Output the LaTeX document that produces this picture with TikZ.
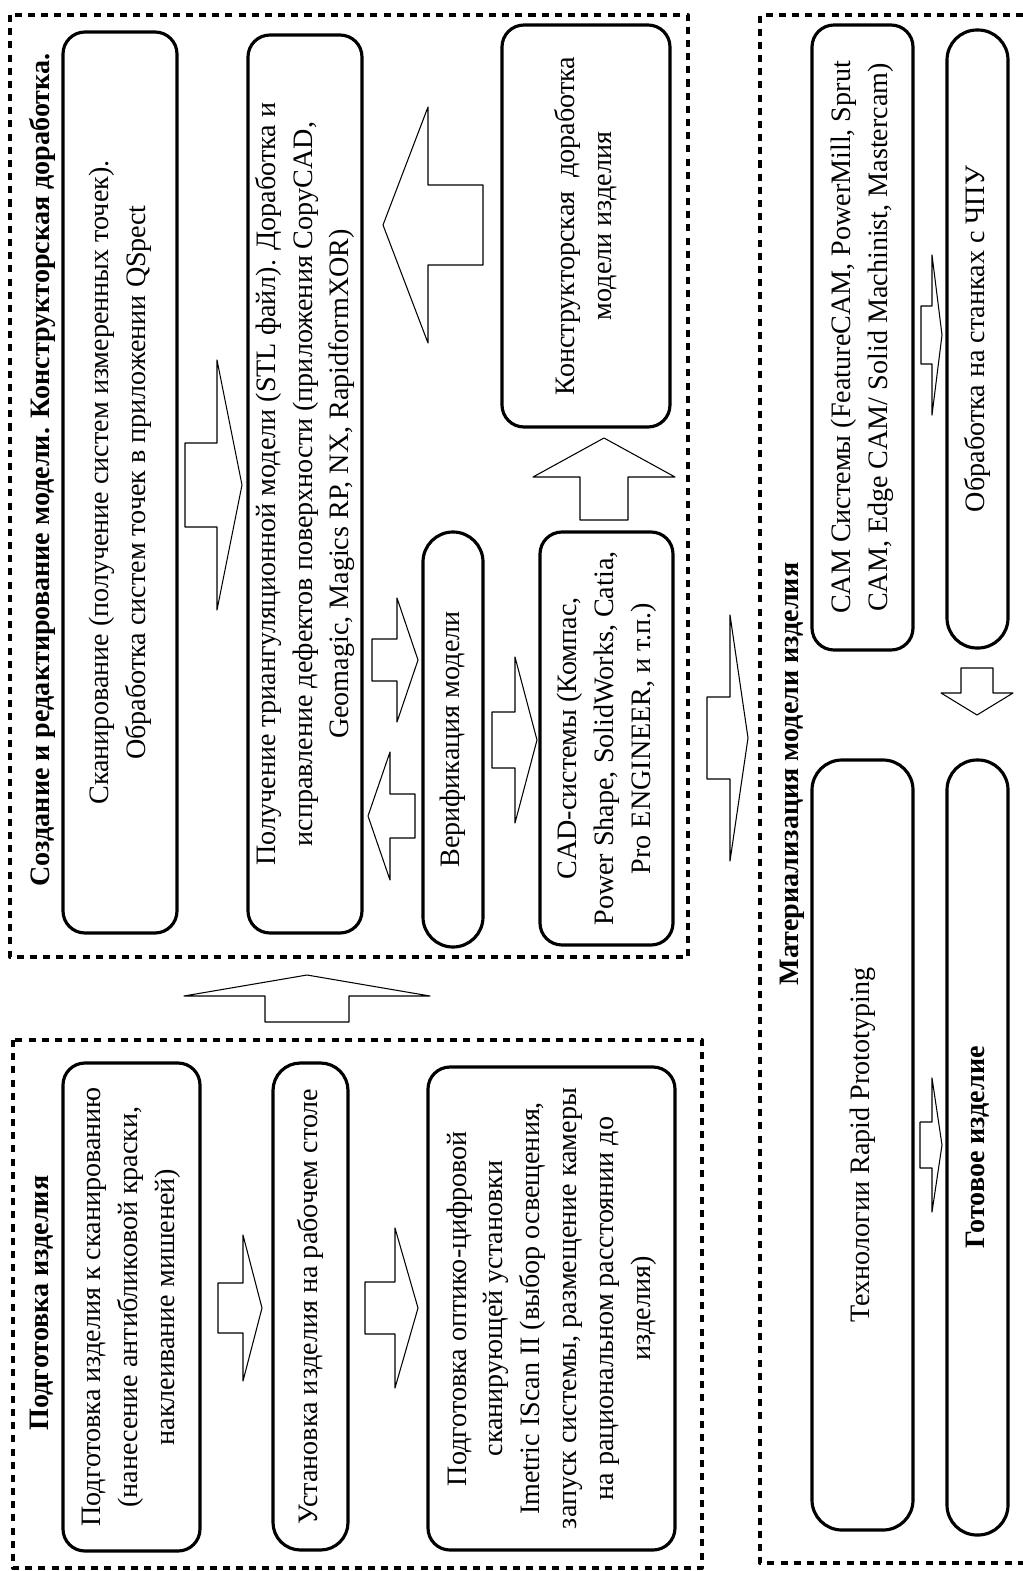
\documentclass[tikz,border=0pt]{standalone}
\usepackage{fontspec}
\setmainfont{Liberation Serif}
\begin{document}
\begin{tikzpicture}[
  x=0.02cm, y=-0.02cm, % one reference pixel, y runs downwards
  line join=round,
  font=\fontsize{16}{21}\selectfont,
  box/.style={draw, line width=1.8pt, rounded corners=0.44cm, rotate=90,
    align=center, inner sep=0pt},
  pill/.style={box, rounded corners=0.6cm},
  boxsize/.style 2 args={minimum width=#1*\px, minimum height=#2*\px},
  title/.style={rotate=90, font=\fontsize{16}{21}\selectfont\bfseries},
  frame/.style={line width=2.2pt, dash pattern=on 4pt off 3.5pt},
  blk/.style={draw, line width=0.6pt, fill=white}
]
  \def\px{0.02cm} % pixel size

  % ---- page ----
  \useasboundingbox (0,0) rectangle (1023,1571);

  % ---- dashed frames ----
  \draw[frame] (13,1040) rectangle (702,1568);
  \draw[frame] (10,15) rectangle (688,957);
  \draw[frame] (1023,15) -- (760,15) -- (760,1563) -- (1023,1563); % runs off the page

  % ---- frame titles ----
  \node[title] (tprep) at (42,1303) {Подготовка изделия};
  \node[title] (tmodel) at (42,470) {Создание и редактирование модели. Конструкторская доработка.};
  \node[title] (tmat) at (792,774) {Материализация модели изделия};

  % ---- preparation ----
  \node[box, boxsize={488}{137}] (prep) at (131.5,1307)
    {Подготовка изделия к сканированию\\(нанесение антибликовой краски,\\наклеивание мишеней)};
  \node[box, boxsize={487}{75}, rounded corners=0.55cm] (table) at (310.5,1306.5)
    {Установка изделия на рабочем столе};
  \node[box, boxsize={483}{247}] (setup) at (551.5,1308.5)
    {Подготовка оптико-цифровой\\сканирующей установки\\Imetric IScan II (выбор освещения,\\запуск системы, размещение камеры\\на рациональном расстоянии до\\изделия)};

  % ---- model ----
  \node[box, boxsize={901}{114}] (scan) at (120,482.5)
    {Сканирование (получение систем измеренных точек).\\Обработка систем точек в приложении QSpect};
  \node[box, boxsize={898}{114}] (stl) at (305,484)
    {Получение триангуляционной модели (STL файл). Доработка и\\исправление дефектов поверхности (приложения CopyCAD,\\Geomagic, Magics RP, NX, RapidformXOR)};
  \node[box, boxsize={402}{168}] (design) at (586,226)
    {Конструкторская\ \ доработка\\модели изделия};
  \node[pill, boxsize={415}{60}] (verify) at (453,739.5) {Верификация модели};
  \node[box, boxsize={413}{133}] (cad) at (606.5,738.5)
    {CAD-системы (Компас,\\Power Shape, SolidWorks, Catia,\\Pro ENGINEER, и т.п.)};

  % ---- materialisation ----
  \node[box, boxsize={625}{101}] (cam) at (862.5,337.5)
    {CAM Системы (FeatureCAM, PowerMill, Sprut\\CAM, Edge CAM/ Solid Machinist, Mastercam)};
  \node[pill, boxsize={618}{61}] (cnc) at (977.5,339) {Обработка на станках с ЧПУ};
  \node[box, boxsize={770}{101}, rounded corners=0.6cm] (rp) at (862.5,1145)
    {Технологии Rapid Prototyping};
  \node[pill, boxsize={775}{61}, font=\fontsize{16}{21}\selectfont\bfseries] (done) at (977.5,1147.5)
    {Готовое изделие};

  % ---- block arrows pointing left/right: shaft start/head base/tip/centre/shaft half/head half ----
  \foreach \xa/\xb/\xc/\yc/\sh/\hh in {
    218/243/262/1308/25/73,
    365/395/418/1308/26/80,
    185/217/242/485/42/125,
    483/428/383/225/40/118,
    372/397/418/660/21/62,
    415/390/368/816/22/64,
    492/515/537/740/28/83,
    707/730/748/738/41/123,
    921/932/942/335/29/80,
    920/932/942/1145/23/67
  }{
    \draw[blk] (\xa,\yc-\sh) -- (\xb,\yc-\sh) -- (\xb,\yc-\hh) -- (\xc,\yc)
      -- (\xb,\yc+\hh) -- (\xb,\yc+\sh) -- (\xa,\yc+\sh) -- cycle;
  }

  % ---- block arrows pointing up/down ----
  \foreach \ya/\yb/\yc/\xc/\sw/\hw in {
    1022/996/975/307/42/123,
    520/477/438/604/24/71,
    668/693/715/977/16/36
  }{
    \draw[blk] (\xc-\sw,\ya) -- (\xc-\sw,\yb) -- (\xc-\hw,\yb) -- (\xc,\yc)
      -- (\xc+\hw,\yb) -- (\xc+\sw,\yb) -- (\xc+\sw,\ya) -- cycle;
  }

\end{tikzpicture}
\end{document}
